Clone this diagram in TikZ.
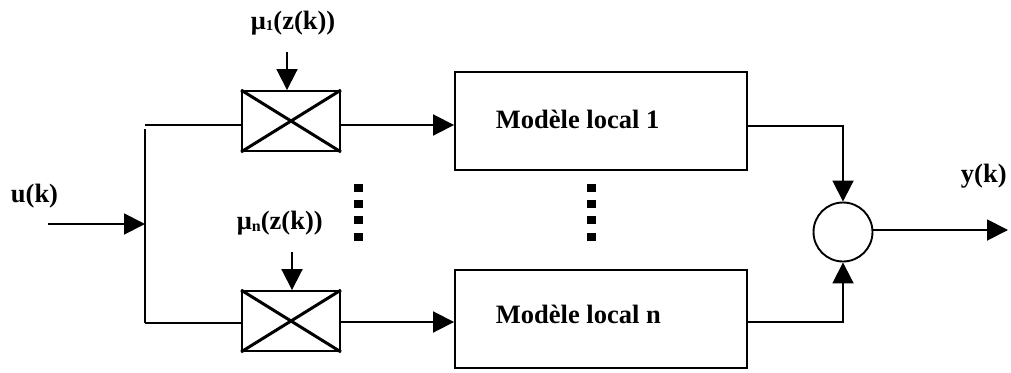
\documentclass[tikz,border=0pt]{standalone}
\usepackage{fontspec}
\setmainfont{Liberation Serif}
\usetikzlibrary{arrows.meta,calc}
\begin{document}
\begin{tikzpicture}[x=1pt,y=-1pt,
  line width=1.9pt,
  font=\fontsize{26.5}{30}\selectfont\bfseries,
  arr/.style={-{Triangle[length=21pt,width=21pt]}},
  multbox/.style={draw,rectangle,minimum width=98pt,minimum height=60pt,inner sep=0pt},
  modbox/.style={draw,rectangle,minimum width=292pt,minimum height=98pt,inner sep=0pt},
  sumnode/.style={draw,circle,minimum size=59pt,inner sep=0pt},
  lbl/.style={inner sep=0pt,anchor=base west},
  dotsq/.style={fill=black,inner sep=0pt,minimum width=9pt,minimum height=8pt},
  cross/.style={line width=3pt}]
\useasboundingbox (0,0) rectangle (1011,372);
% multiplier boxes
\node[multbox] (m1) at (291,121) {};
\node[multbox] (mn) at (291,321) {};
\draw[cross] (m1.north west) -- (m1.south east) (m1.north east) -- (m1.south west);
\draw[cross] (mn.north west) -- (mn.south east) (mn.north east) -- (mn.south west);
% model boxes
\node[modbox] (mod1) at (601,121) {};
\node[modbox] (modn) at (601,319) {};
\node[lbl] (t1) at (495,128) {Modèle local 1};
\node[lbl] (tn) at (495,323) {Modèle local n};
% sum
\node[sumnode] (sum) at (843,232) {};
% labels
\node[lbl] (mu1) at (250,29) {μ\raisebox{-1.5pt}{\fontsize{15}{15}\selectfont 1}(z(k))};
\node[lbl] (mun) at (236,229) {μ\raisebox{-2pt}{\fontsize{16}{16}\selectfont n}(z(k))};
\node[lbl] (u) at (10,202) {u(k)};
\node[lbl] (y) at (960,182) {y(k)};
% input and branches
\coordinate (in) at (48,224);
\coordinate (br) at (145,224);
\coordinate (bt) at (145,125);
\coordinate (bb) at (145,323);
\coordinate (bv) at (145,129);
\draw[arr] (in) -- (br);
\draw (bv) -- (bb);
\draw (bt) -- (bt -| m1.west);
\draw (bb) -- (bb -| mn.west);
% weight inputs
\coordinate (w1) at (287,52);
\coordinate (wn) at (292,252);
\draw[arr] (w1) -- (w1 |- m1.north);
\draw[arr] (wn) -- (wn |- mn.north);
% multipliers to models
\coordinate (c1) at (340,125);
\coordinate (cn) at (340,322);
\draw[arr] (c1 -| m1.east) -- (c1 -| mod1.west);
\draw[arr] (cn -| mn.east) -- (cn -| modn.west);
% models to sum
\coordinate (o1) at (843,126);
\coordinate (on) at (843,322);
\draw[arr] (o1 -| mod1.east) -- (o1) -- (sum.north);
\draw[arr] (on -| modn.east) -- (on) -- (sum.south);
% output
\coordinate (out) at (1008,230);
\draw[arr] (sum.east |- out) -- (out);
% dots
\foreach \yy [count=\i] in {187.5,204,220,236.5}{
  \node[dotsq] (dl\i) at (358.5,\yy) {};
  \node[dotsq] (dr\i) at (591.5,\yy) {};
}
\end{tikzpicture}
\end{document}
